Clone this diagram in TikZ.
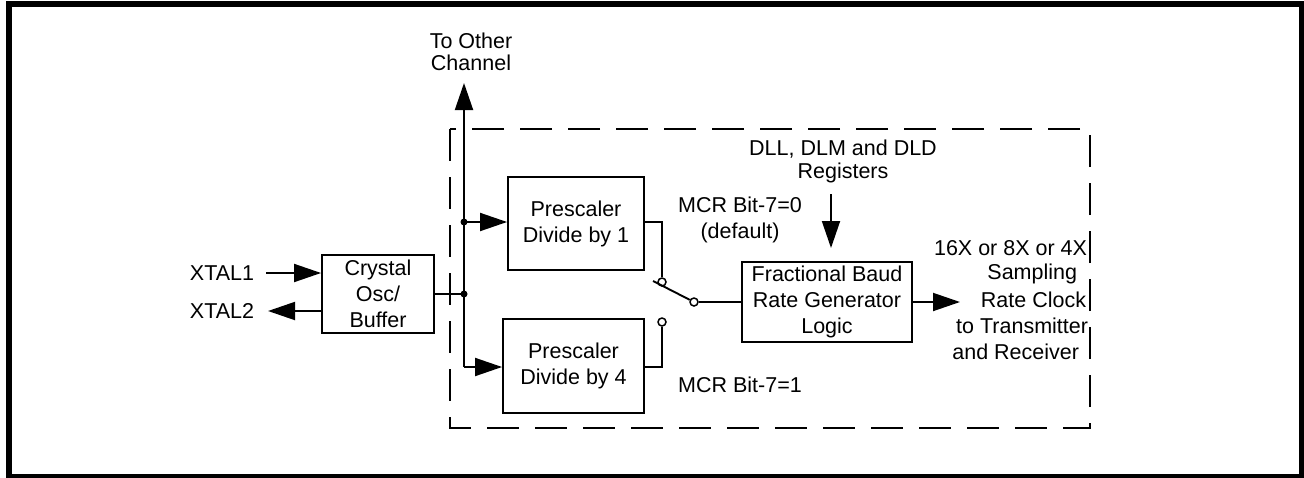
\documentclass[tikz,border=0pt]{standalone}
\usepackage{fontspec}
\setmainfont{Liberation Sans}
\usetikzlibrary{arrows.meta}
\begin{document}
\begin{tikzpicture}[x=1pt,y=-1pt,
  font=\fontsize{21.5}{26}\selectfont,
  line width=1.9pt,
  arr/.style={-{Triangle[length=27pt,width=18pt]}},
  blk/.style={draw, inner sep=0pt, align=center},
  lbl/.style={inner sep=0pt, align=center},
  dot/.style={circle, fill=black, inner sep=0pt, minimum size=7pt},
  contact/.style={circle, draw, fill=white, line width=1.5pt, inner sep=0pt, minimum size=8pt},
]
\useasboundingbox (0,0) rectangle (1304,477);
% outer frame
\draw[line width=6pt] (9,4) rectangle (1302,477);
% dashed channel box
\draw[dash pattern=on 32pt off 16pt] (450,129) rectangle (1090,428);

% blocks
\node[blk, minimum width=112pt, minimum height=78pt] (xtal) at (378,294) {Crystal\\Osc/\\Buffer};
\node[blk, minimum width=136pt, minimum height=93pt] (p1) at (576,223.5) {Prescaler\\Divide by 1};
\node[blk, minimum width=141pt, minimum height=94pt] (p4) at (573.5,366) {Prescaler\\Divide by 4};
\node[blk, minimum width=170pt, minimum height=80pt] (fb) at (827,302) {Fractional Baud\\Rate Generator\\Logic};

% labels
\node[lbl] (xtal1) at (222,273) {XTAL1};
\node[lbl] (xtal2) at (222,311) {XTAL2};
\node[lbl, font=\fontsize{21.5}{22.5}\selectfont] (other) at (471,52) {To Other\\Channel};
\node[lbl, font=\fontsize{21.5}{23.5}\selectfont] (dll) at (843,161.5) {DLL, DLM and DLD\\Registers};
\node[lbl] (mcr0) at (740,220) {MCR Bit-7=0\\(default)};
\node[lbl] (mcr1) at (740,385) {MCR Bit-7=1};
\node[lbl, anchor=east] (o1) at (1088,248) {16X or 8X or 4X};
\node[lbl, anchor=east] (o2) at (1078,274) {Sampling};
\node[lbl, anchor=east] (o3) at (1087,300) {Rate Clock};
\node[lbl, anchor=east] (o4) at (1089,326) {to Transmitter};
\node[lbl, anchor=east] (o5) at (1080,352) {and Receiver};

% bus
\coordinate (busbot) at (464,367);
\coordinate (toother) at (464,83);
\node[dot] (j1) at (464,222) {};
\node[dot] (j2) at (464,294) {};
\draw[arr] (busbot) -- (toother);
\draw[arr] (j1.center) -- (p1.west |- j1.center);
\draw[arr] (busbot) -- (p4.west |- busbot);
\draw (xtal.east |- j2.center) -- (j2.center);

% XTAL pins
\draw[arr] ([xshift=11pt]xtal1.east) -- (xtal.west |- xtal1.east);
\draw[arr] (xtal.west |- xtal2.east) -- ([xshift=13pt]xtal2.east);

% switch
\node[contact] (c1) at (662,282) {};
\node[contact] (c2) at (662,322) {};
\node[contact] (piv) at (694,302) {};
\coordinate (blade) at (653,281);
\draw (p1.east |- 0,222) -| (c1);
\draw (p4.east |- busbot) -| (c2);
\draw (blade) -- (piv);
\draw (piv) -- (fb.west |- piv);

% registers and output
\coordinate (dlltop) at (831,194);
\coordinate (dlltip) at (831,248);
\draw[arr] (dlltop) -- (dlltip);
\coordinate (outtip) at (960,302);
\draw[arr] (fb.east) -- (outtip);
\end{tikzpicture}
\end{document}
